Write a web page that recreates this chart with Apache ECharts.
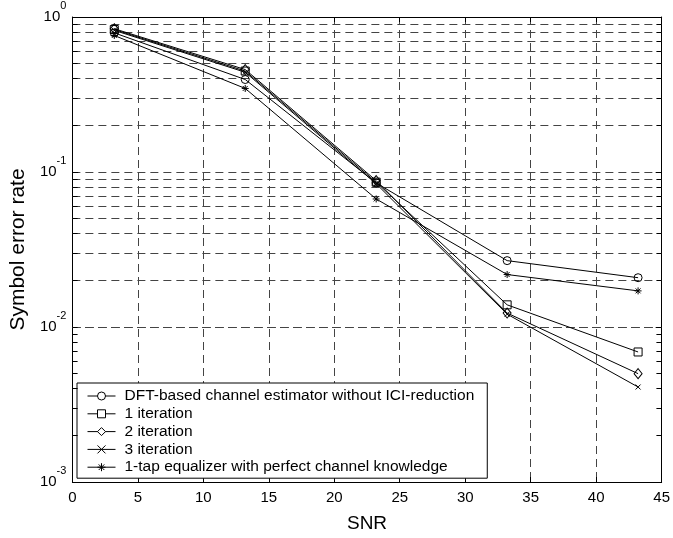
<!DOCTYPE html>
<html>
<head>
<meta charset="utf-8">
<script src="https://cdn.jsdelivr.net/npm/echarts@6/dist/echarts.min.js"></script>
<style>
html,body{margin:0;padding:0;background:#fff;}
#c{width:673px;height:538px;}
</style>
</head>
<body>
<div id="c"></div>
<script>
const snr = [3.2, 13.2, 23.2, 33.2, 43.2];
const dftNoICI = [0.79, 0.395, 0.085, 0.0268, 0.0208];
const iter1 = [0.83, 0.448, 0.086, 0.0139, 0.0069];
const iter2 = [0.84, 0.458, 0.088, 0.0123, 0.0050];
const iter3 = [0.82, 0.440, 0.084, 0.0121, 0.0041];
const oneTap = [0.76, 0.346, 0.067, 0.0218, 0.0171];
const names = [
  'DFT-based channel estimator without ICI-reduction',
  '1 iteration',
  '2 iteration',
  '3 iteration',
  '1-tap equalizer with perfect channel knowledge'
];
const xTicks = [0, 5, 10, 15, 20, 25, 30, 35, 40, 45];
const decades = [0.001, 0.01, 0.1];
const minorMult = [2, 3, 4, 5, 6, 7, 8, 9];

const minorVals = [];
decades.forEach(d => minorMult.forEach(m => minorVals.push(+(d * m).toPrecision(3))));

const FONT = 'Arial, "Liberation Sans", sans-serif';
const gridDash = { color: '#444', width: 1, type: [8, 5] };

const symbols = {
  circle: 'circle',
  square: 'rect',
  diamond: 'path://M5 0L10 6L5 12L0 6Z',
  x: 'path://M0 0L10 10M10 0L0 10',
  star: 'path://M5 0L5 10M0 5L10 5M1.5 1.5L8.5 8.5M8.5 1.5L1.5 8.5'
};

function mk(name, vals, sym, size) {
  return {
    name: name,
    type: 'line',
    data: snr.map((x, i) => [x, vals[i]]),
    symbol: sym,
    symbolSize: size,
    showAllSymbol: true,
    lineStyle: { color: '#000', width: 1 },
    itemStyle: { color: 'rgba(0,0,0,0)', borderColor: '#000', borderWidth: 1 },
    emphasis: { disabled: true },
    animation: false,
    z: 5
  };
}

const series = [
  mk(names[0], dftNoICI, symbols.circle, 8),
  mk(names[1], iter1, symbols.square, 8),
  mk(names[2], iter2, symbols.diamond, [8, 10]),
  mk(names[3], iter3, symbols.x, 5),
  mk(names[4], oneTap, symbols.star, 7)
];

const minorLines = minorVals.map(v => ({ yAxis: v }));
const minorTicksL = minorVals.concat(decades.slice(1)).map(v => [{ coord: [0, v] }, { coord: [0.4, v] }]);
const minorTicksR = minorVals.concat(decades.slice(1)).map(v => [{ coord: [44.6, v] }, { coord: [45, v] }]);

series.push({
  name: 'grid', type: 'line', data: [], silent: true, animation: false, z: 1,
  markLine: {
    silent: true, symbol: 'none', animation: false,
    label: { show: false },
    lineStyle: gridDash,
    emphasis: { disabled: true },
    data: minorLines
  }
});
series.push({
  name: 'ticks', type: 'line', data: [], silent: true, animation: false, z: 6,
  markLine: {
    silent: true, symbol: 'none', animation: false,
    label: { show: false },
    lineStyle: { color: '#000', width: 1, type: 'solid' },
    emphasis: { disabled: true },
    data: minorTicksL.concat(minorTicksR)
  }
});

const option = {
  backgroundColor: '#fff',
  animation: false,
  grid: { left: 70, top: 15, right: 6, bottom: 52, containLabel: false },
  xAxis: [{
    type: 'value', min: 0, max: 45, interval: 5,
    name: 'SNR', nameLocation: 'middle', nameGap: 32,
    nameTextStyle: { fontFamily: FONT, fontSize: 19, color: '#000' },
    axisLine: { show: true, onZero: false, lineStyle: { color: '#000', width: 1 } },
    axisTick: { show: true, inside: true, length: 5, lineStyle: { color: '#000' } },
    axisLabel: { fontFamily: FONT, fontSize: 15, color: '#000', margin: 8,
      formatter: v => xTicks.includes(v) ? String(v) : '' },
    splitLine: { show: true, lineStyle: gridDash }
  }, {
    type: 'value', min: 0, max: 45, interval: 5, position: 'top',
    axisLine: { show: true, onZero: false, lineStyle: { color: '#000', width: 1 } },
    axisTick: { show: true, inside: true, length: 5, lineStyle: { color: '#000' } },
    axisLabel: { show: false }, splitLine: { show: false }
  }],
  yAxis: [{
    type: 'log', logBase: 10, min: 0.001, max: 1,
    name: 'Symbol error rate', nameLocation: 'middle', nameGap: 42,
    nameTextStyle: { fontFamily: FONT, fontSize: 21, color: '#000' },
    axisLine: { show: true, onZero: false, lineStyle: { color: '#000', width: 1 } },
    axisTick: { show: true, inside: true, length: 6, lineStyle: { color: '#000' } },
    axisLabel: {
      margin: 6,
      formatter: v => '{b|10}{s|' + Math.round(Math.log10(v)) + '}',
      rich: {
        b: { fontFamily: FONT, fontSize: 15, color: '#000', lineHeight: 34, verticalAlign: 'middle' },
        s: { fontFamily: FONT, fontSize: 11, color: '#000', lineHeight: 11, verticalAlign: 'top' }
      }
    },
    splitLine: { show: true, lineStyle: gridDash }
  }, {
    type: 'log', logBase: 10, min: 0.001, max: 1, position: 'right',
    axisLine: { show: true, onZero: false, lineStyle: { color: '#000', width: 1 } },
    axisTick: { show: true, inside: true, length: 6, lineStyle: { color: '#000' } },
    axisLabel: { show: false }, splitLine: { show: false }
  }],
  legend: {
    data: names,
    orient: 'vertical',
    left: 77, top: 383,
    backgroundColor: '#fff',
    borderColor: '#000', borderWidth: 1, borderRadius: 0,
    padding: [5, 13, 3, 10],
    itemWidth: 28, itemHeight: 10, itemGap: 1.8,
    selectedMode: false,
    lineStyle: { width: 1, color: '#000' },
    itemStyle: { borderWidth: 1, borderColor: '#000', color: '#fff' },
    textStyle: { fontFamily: FONT, fontSize: 15.5, color: '#000', padding: [0, 0, 0, 4] }
  },
  series: series
};

const chart = echarts.init(document.getElementById('c'), null, { renderer: 'canvas' });
chart.setOption(option);
</script>
</body>
</html>
